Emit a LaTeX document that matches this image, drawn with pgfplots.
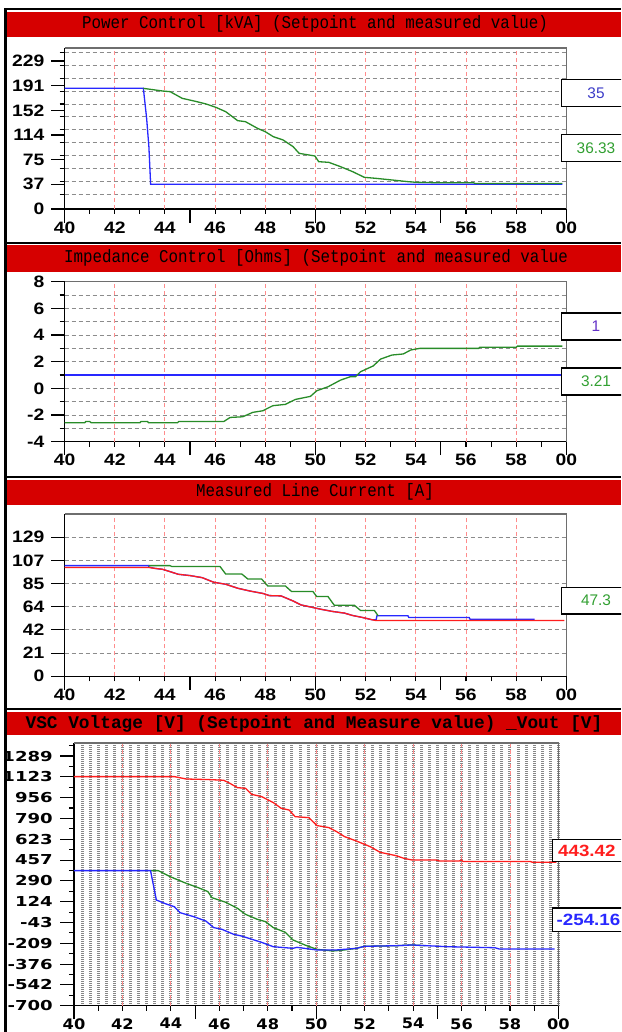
\documentclass[border=0pt]{standalone}
\usepackage{pgfplots}
\pgfplotsset{compat=1.18}
\usepackage{fontspec}
\setmainfont{Liberation Sans}
\newfontfamily\ttA[FakeStretch=0.88]{Liberation Mono}
\newfontfamily\ttB{Liberation Mono}
\newfontfamily\tkA[FakeStretch=1.17]{Liberation Sans}
\newfontfamily\tkB[FakeStretch=1.32]{DejaVu Sans}
\newfontfamily\tkC[FakeStretch=1.12]{DejaVu Sans}
\newfontfamily\bxB[FakeStretch=1.15]{Liberation Sans}
\newcommand\fTitle{\ttA\fontsize{18}{18}\selectfont}
\newcommand\fTitleB{\ttB\bfseries\fontsize{17.8}{17.8}\selectfont}
\newcommand\fTick{\tkA\bfseries\fontsize{16.5}{16.5}\selectfont}
\newcommand\fTickY{\tkB\bfseries\fontsize{13.7}{13.7}\selectfont}
\newcommand\fTickX{\tkC\bfseries\fontsize{14.5}{14.5}\selectfont}
\newcommand\fBox{\fontsize{15.4}{15.4}\selectfont}
\newcommand\fBoxB{\bxB\bfseries\fontsize{16.3}{16.3}\selectfont}
\definecolor{barred}{RGB}{214,0,0}
\definecolor{lblue}{RGB}{40,40,255}
\definecolor{lgreen}{RGB}{40,140,40}
\definecolor{lred}{RGB}{255,30,30}
\definecolor{gridred}{RGB}{255,140,140}
\definecolor{gridgray}{RGB}{140,140,140}
\definecolor{texgray}{RGB}{135,135,135}
\definecolor{bordgray}{RGB}{110,110,110}
\definecolor{boxblue}{RGB}{60,60,200}
\definecolor{boxpurple}{RGB}{100,50,200}
\definecolor{boxgreen}{RGB}{50,160,50}
\pgfplotsset{
 panel/.style={scale only axis, xmin=40, xmax=60,
   axis x line=bottom, axis y line=left, axis line style={-, black, line width=1.5pt},
   tick align=outside, major tick length=13.5pt, minor tick length=5pt,
   tick style={black, line width=1.1pt},
   xtick={40,45,50,55,60}, xticklabels={40,,,,00},
   minor xtick={41,43,...,59},
   extra x ticks={42,44,...,58},
   extra x tick labels={42,44,46,48,50,52,54,56,58},
   extra x tick style={major tick length=5pt, grid=major,
      major grid style={gridred, line width=0.9pt, dash pattern=on 4pt off 3pt},
      xticklabel style={yshift=-8.5pt}},
   xticklabel style={anchor=north, inner sep=0pt, yshift=1pt},
   yticklabel style={anchor=east, inner sep=0pt, xshift=-6.5pt},
   major grid style={gridgray, line width=0.9pt, dash pattern=on 4pt off 3pt},
   minor grid style={gridgray, line width=0.9pt, dash pattern=on 4pt off 3pt},
   clip=false,
 },
 every axis plot/.append style={line width=1.3pt, mark=none},
}
\begin{document}
\begin{tikzpicture}
\clip (0,0) rectangle (621pt,-1032pt);
\fill[white] (0,0) rectangle (621pt,-1032pt);
% title bars
\fill[barred] (7pt,-11.7pt) rectangle (621pt,-36.7pt);
\node[font=\fTitle, inner sep=0pt] at (315pt,-24.2pt) {Power Control [kVA] (Setpoint and measured value)};
\fill[barred] (7pt,-245pt) rectangle (621pt,-271.7pt);
\node[font=\fTitle, inner sep=0pt] at (316pt,-258.3pt) {Impedance Control [Ohms] (Setpoint and measured value};
\fill[barred] (7pt,-479.7pt) rectangle (621pt,-504.7pt);
\node[font=\fTitle, inner sep=0pt] at (315pt,-492.2pt) {Measured Line Current [A]};
\fill[barred] (7pt,-712pt) rectangle (621pt,-735pt);
\node[font=\fTitleB, inner sep=0pt] at (314pt,-723.5pt) {VSC Voltage [V] (Setpoint and Measure value) \_Vout [V]};

% ---------- Panel 1 ----------
\begin{axis}[panel, at={(64.6pt,-209pt)}, anchor=south west, width=501.7pt, height=161pt,
  ymin=0, ymax=249.1,
  ytick={0,38.17,76.33,114.5,152.67,190.83,229}, yticklabels={0,37,75,114,152,191,229},
  minor ytick={22.7,42.7,62.7,82.6,102.6,122.5,142.5,162.5,182.4,202.4,222.3,242.3}, yminorgrids,
  tick label style={font=\fTick}]
\addplot[lblue] coordinates {(40,186.7)(43.14,186.7)(43.27,140.3)(43.36,96.4)(43.43,38.2)(59.84,38.2)};
\addplot[lgreen] coordinates {(43.14,186.7)(43.43,185.1)(43.9,182.6)(44.21,181.5)(44.69,171.2)(45.16,167.1)(45.64,162.5)(46.03,157.3)(46.42,150.6)(46.9,136.7)(47.21,135.1)(47.69,124.8)(48.0,119.6)(48.32,111.9)(48.71,106.8)(49.11,96.4)(49.35,86.1)(49.98,82.0)(50.13,73.2)(50.53,72.2)(51.0,65.5)(51.48,57.8)(51.95,49.0)(52.42,47.4)(53.05,44.9)(53.69,42.3)(54.0,41.3)(54.79,40.7)(56.29,40.7)(56.37,39.5)(59.84,39.5)};
\end{axis}

% ---------- Panel 2 ----------
\begin{axis}[panel, at={(64.6pt,-441.7pt)}, anchor=south west, width=501.7pt, height=160pt,
  ymin=-4, ymax=8,
  ytick={-4,-2,0,2,4,6,8}, yticklabels={-4,-2,0,2,4,6,8},
  minor ytick={-3,-1,1,3,5,7}, ymajorgrids, yminorgrids,
  tick label style={font=\fTick}]
\addplot[lblue] coordinates {(40,1)(59.84,1)};
\addplot[lgreen] coordinates {(40,-2.58)(40.8,-2.58)(40.85,-2.48)(41.0,-2.48)(41.06,-2.58)(43.0,-2.58)(43.05,-2.48)(43.3,-2.48)(43.35,-2.58)(44.5,-2.58)(44.55,-2.48)(46.35,-2.48)(46.6,-2.18)(47.1,-2.13)(47.5,-1.8)(47.9,-1.68)(48.3,-1.3)(48.8,-1.2)(49.2,-0.83)(49.8,-0.6)(50.05,-0.18)(50.5,0.12)(51.0,0.62)(51.4,0.88)(51.6,0.88)(51.8,1.25)(52.3,1.68)(52.6,2.2)(53.05,2.5)(53.5,2.58)(53.8,2.88)(54.16,3.0)(56.5,3.0)(56.55,3.08)(58.0,3.08)(58.05,3.17)(59.84,3.17)};
\end{axis}

% ---------- Panel 3 ----------
\begin{axis}[panel, at={(64.6pt,-676.3pt)}, anchor=south west, width=501.7pt, height=162.3pt,
  ymin=0, ymax=150,
  ytick={0,21.43,42.86,64.29,85.71,107.14,128.57}, yticklabels={0,21,42,64,85,107,129},
  ymajorgrids,
  tick label style={font=\fTick}]
\addplot[lblue] coordinates {(40,102.3)(43.35,102.3)(43.36,101.0)(43.58,99.8)(43.9,98.9)(44.21,96.7)(44.53,94.3)(45.0,93.1)(45.48,91.2)(45.95,86.9)(46.42,85.1)(46.9,81.4)(47.37,78.9)(47.92,76.5)(48.16,74.6)(48.63,74.3)(49.1,69.7)(49.42,66.0)(49.9,63.6)(50.21,62.0)(50.69,59.9)(51.16,58.4)(51.48,56.2)(51.87,54.4)(52.27,52.2)(52.42,52.2)(52.45,55.9)(53.69,55.9)(53.72,54.4)(56.13,54.4)(56.16,52.8)(58.74,52.8)};
\addplot[lred] coordinates {(40,100.6)(43.35,100.6)(43.58,99.8)(43.9,98.9)(44.21,96.7)(44.53,94.3)(45.0,93.1)(45.48,91.2)(45.95,86.9)(46.42,85.1)(46.9,81.4)(47.37,78.9)(47.92,76.5)(48.16,74.6)(48.63,74.3)(49.1,69.7)(49.42,66.0)(49.9,63.6)(50.21,62.0)(50.69,59.9)(51.16,58.4)(51.48,56.2)(51.87,54.4)(52.27,52.2)(52.4,51.6)(59.92,51.6)};
\addplot[lgreen] coordinates {(43.35,102.3)(44.2,102.3)(44.28,101.4)(46.2,101.4)(46.42,94.6)(47.06,94.6)(47.3,90.0)(47.85,90.0)(48.1,83.5)(48.8,83.5)(49.05,78.3)(49.9,78.3)(50.05,73.7)(50.5,73.7)(50.75,65.7)(51.55,65.7)(51.8,60.8)(52.35,60.8)(52.5,55.9)};
\end{axis}

% ---------- Panel 4 background texture ----------
\begin{axis}[at={(74pt,-1005.7pt)}, anchor=south west, scale only axis, width=484.4pt, height=262.7pt,
  xmin=40, xmax=60, ymin=-700, ymax=1392.6,
  axis line style={draw=none}, major tick length=0pt, minor tick length=0pt,
  xtick={40.33333,40.66667,...,59.9}, ytick=\empty, xticklabels={},
  minor ytick={-617.125,-575.69,...,1380},
  xmajorgrids, yminorgrids,
  major grid style={texgray, line width=3pt, dash pattern=on 1.1pt off 0.9pt},
  minor grid style={texgray!55, line width=0.8pt, dash pattern=on 2pt off 1.5pt}]
\end{axis}

% ---------- Panel 4 ----------
\begin{axis}[panel, at={(74pt,-1005.7pt)}, anchor=south west, width=484.4pt, height=262.7pt,
  ymin=-700, ymax=1392.6,
  ytick={-700,-534.25,-368.5,-202.75,-37,128.75,294.5,460.25,626,791.75,957.5,1123.25,1289},
  yticklabels={-700,-542,-376,-209,-43,124,290,457,623,790,956,1123,1289},
  minor ytick={-617.125,-451.375,-285.625,-119.875,45.875,211.625,377.375,543.125,708.875,874.625,1040.375,1206.125,1371.875},
  xticklabel style={font=\fTickX}, yticklabel style={font=\fTickY, xshift=-1pt}]
\addplot[lgreen] coordinates {(43.16,376)(43.48,376)(43.97,328)(44.63,275)(45.12,241)(45.53,209)(45.69,161)(46.26,124)(46.75,76)(47.08,28)(47.57,-12)(47.9,-30)(48.23,-78)(48.72,-115)(49.04,-176)(49.53,-216)(50.03,-251)(50.69,-264)(51.17,-256)(51.66,-243)(51.99,-227)(53.3,-222)(53.95,-216)(54.5,-222)};
\addplot[lblue] coordinates {(40,376)(43.16,376)(43.4,142)(43.81,110)(44.14,89)(44.38,41)(44.95,9)(45.44,-25)(45.77,-78)(46.1,-91)(46.59,-131)(46.92,-145)(47.74,-195)(48.23,-230)(49.04,-243)(49.2,-235)(50.03,-256)(50.84,-256)(51.66,-243)(51.99,-227)(53.3,-222)(53.95,-216)(55.42,-230)(57.38,-238)(57.55,-248)(59.84,-248)};
\addplot[lred] coordinates {(40,1125)(44.14,1125)(44.63,1106)(45.61,1101)(46.18,1096)(46.43,1072)(46.75,1037)(47.08,1032)(47.33,984)(47.74,966)(48.23,918)(48.55,873)(48.88,859)(49.13,806)(49.7,798)(50.03,735)(50.52,719)(50.84,687)(51.17,647)(51.66,612)(52.23,567)(52.64,522)(53.3,495)(53.62,474)(53.95,461)(54.93,461)(55.09,453)(55.91,453)(55.99,461)(56.07,448)(58.85,448)(58.94,442)(59.92,442)};
\end{axis}

% plot borders (top/right)
\draw[bordgray, line width=1.2pt] (64.6pt,-48pt) -- (566.3pt,-48pt) -- (566.3pt,-209pt);
\draw[bordgray, line width=1.2pt] (64.6pt,-281.7pt) -- (566.3pt,-281.7pt) -- (566.3pt,-441.7pt);
\draw[bordgray, line width=1.2pt] (64.6pt,-514pt) -- (566.3pt,-514pt) -- (566.3pt,-676.3pt);
\draw[bordgray, line width=1.2pt] (74pt,-743pt) -- (558.4pt,-743pt) -- (558.4pt,-1005.7pt);

% value boxes
\filldraw[fill=white, draw=black, line width=1.5pt] (561.6pt,-79.3pt) rectangle (624pt,-106.7pt);
\node[font=\fBox, text=boxblue, inner sep=0pt] at (596pt,-93pt) {35};
\filldraw[fill=white, draw=black, line width=1.5pt] (561.6pt,-134.5pt) rectangle (624pt,-161.7pt);
\node[font=\fBox, text=boxgreen, inner sep=0pt] at (596pt,-148pt) {36.33};
\filldraw[fill=white, draw=black, line width=1.5pt] (561.6pt,-313pt) rectangle (624pt,-340pt);
\node[font=\fBox, text=boxpurple, inner sep=0pt] at (596pt,-326.5pt) {1};
\filldraw[fill=white, draw=black, line width=1.5pt] (561.6pt,-368pt) rectangle (624pt,-395pt);
\node[font=\fBox, text=boxgreen, inner sep=0pt] at (596pt,-381.5pt) {3.21};
\filldraw[fill=white, draw=black, line width=1.5pt] (561.6pt,-587.3pt) rectangle (624pt,-614pt);
\node[font=\fBox, text=boxgreen, inner sep=0pt] at (596pt,-600.6pt) {47.3};
\filldraw[fill=white, draw=black, line width=1.5pt] (552.5pt,-839.3pt) rectangle (624pt,-861.7pt);
\node[font=\fBoxB, text=lred, inner sep=0pt, anchor=west] at (558pt,-850.5pt) {443.42};
\filldraw[fill=white, draw=black, line width=1.5pt] (552.5pt,-908pt) rectangle (624pt,-931.7pt);
\node[font=\fBoxB, text=lblue, inner sep=0pt, anchor=west] at (556.5pt,-920pt) {-254.16};

% black frame lines
\draw[black, line width=1.8pt] (4pt,-9.2pt) -- (621pt,-9.2pt);
\draw[black, line width=2pt] (4pt,-243pt) -- (621pt,-243pt);
\draw[black, line width=2pt] (4pt,-477.3pt) -- (621pt,-477.3pt);
\draw[black, line width=2pt] (4pt,-709.3pt) -- (621pt,-709.3pt);
\draw[black, line width=2.5pt] (5.5pt,-8.3pt) -- (5.5pt,-1032pt);
\end{tikzpicture}
\end{document}
